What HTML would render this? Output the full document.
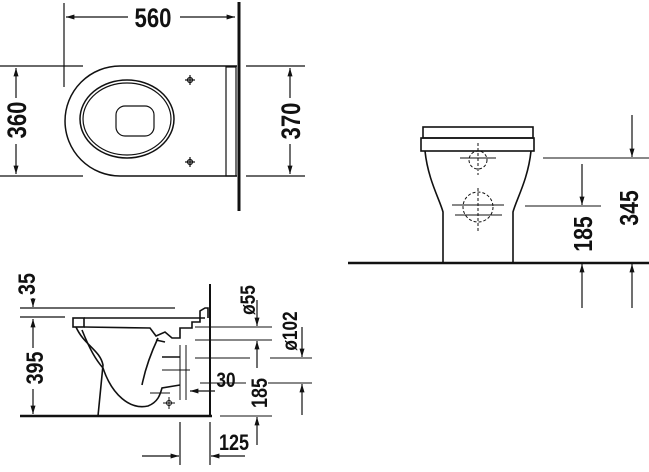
<!DOCTYPE html>
<html><head><meta charset="utf-8"><style>
html,body{margin:0;padding:0;background:#fff;}
svg{display:block;}
text{font-family:"Liberation Sans",Arial,sans-serif;fill:#111;font-weight:bold;}
</style></head><body>
<svg width="649" height="472" viewBox="0 0 649 472" xmlns="http://www.w3.org/2000/svg">
<defs>
<marker id="a" viewBox="0 0 10 10" refX="10" refY="5" markerWidth="7" markerHeight="7" orient="auto-start-reverse"><path d="M0,2 L10,5 L0,8 z" fill="#111"/></marker>
</defs>
<g stroke="#111" fill="none" stroke-width="1.2">
<!-- TOP VIEW -->
<line x1="64" y1="3" x2="64" y2="87"/>
<line x1="66" y1="17" x2="128" y2="17" marker-start="url(#a)"/>
<line x1="180" y1="17" x2="235" y2="17" marker-end="url(#a)"/>
<line x1="239" y1="2" x2="239" y2="211" stroke-width="3"/>
<line x1="0" y1="66" x2="83" y2="66"/>
<line x1="0" y1="176" x2="83" y2="176"/>
<line x1="16" y1="68" x2="16" y2="98" marker-start="url(#a)"/>
<line x1="16" y1="144" x2="16" y2="174" marker-end="url(#a)"/>
<path d="M237 66 H120 A55 55 0 0 0 120 176 H237" stroke-width="1.5"/>
<rect x="226" y="67" width="10" height="109"/>
<ellipse cx="127" cy="119" rx="47" ry="39" stroke-width="1.5"/>
<ellipse cx="127" cy="119" rx="44" ry="36"/>
<rect x="116" y="106" width="38" height="30" rx="9"/>
<circle cx="190" cy="80" r="2.5"/><line x1="185" y1="80" x2="195" y2="80"/><line x1="190" y1="75" x2="190" y2="85"/>
<circle cx="190" cy="162" r="2.5"/><line x1="185" y1="162" x2="195" y2="162"/><line x1="190" y1="157" x2="190" y2="167"/>
<line x1="246" y1="66" x2="305" y2="66"/>
<line x1="246" y1="176" x2="305" y2="176"/>
<line x1="290" y1="68" x2="290" y2="98" marker-start="url(#a)"/>
<line x1="290" y1="144" x2="290" y2="174" marker-end="url(#a)"/>

<!-- SIDE VIEW -->
<line x1="33" y1="298" x2="33" y2="307" marker-end="url(#a)"/>
<line x1="20" y1="308" x2="175" y2="308"/>
<line x1="20" y1="317" x2="65" y2="317"/>
<line x1="33" y1="319" x2="33" y2="348" marker-start="url(#a)"/>
<line x1="33" y1="389" x2="33" y2="414" marker-end="url(#a)"/>
<line x1="20" y1="416" x2="212" y2="416" stroke-width="2.5"/>
<line x1="210" y1="284" x2="210" y2="416" stroke-width="2"/>
<g stroke-width="1.6">
<rect x="73" y="318" width="11" height="9"/>
<path d="M84 318 H205"/>
<path d="M84 327 L150 328 L156 336 L165 332 L172 338 L180 338 L180 328 L192 328 L192 322 L200 322 L200 311 L205 308 L208 308 L208 318"/>
<path d="M76 327 C84 345 100 350 103 365 L98 416"/>
<path d="M82 330 C90 350 96 360 103 368 C112 395 130 410 148 406 C158 402 160 395 162 388 L180 385"/>
<path d="M158 338 C150 355 145 370 142 385"/>
<path d="M162 357 L180 357"/>
<path d="M156 340 L165 342"/>
</g>
<g stroke-width="1">
<line x1="195" y1="327" x2="272" y2="327"/>
<line x1="195" y1="340" x2="272" y2="340"/>
<line x1="195" y1="358" x2="250" y2="358"/>
<line x1="270" y1="358" x2="312" y2="358"/>
<line x1="162" y1="370" x2="190" y2="370"/>
<line x1="200" y1="383" x2="246" y2="383"/>
<line x1="268" y1="383" x2="312" y2="383"/>
<line x1="220" y1="416" x2="272" y2="416"/>
<line x1="186" y1="345" x2="186" y2="400"/>
<line x1="180" y1="345" x2="180" y2="400"/>
<line x1="150" y1="393" x2="170" y2="393"/>
<circle cx="169" cy="403" r="2.5"/><line x1="163" y1="403" x2="175" y2="403"/><line x1="169" y1="397" x2="169" y2="409"/>
</g>
<line x1="257" y1="300" x2="257" y2="326" marker-end="url(#a)"/>
<line x1="257" y1="341" x2="257" y2="368" marker-start="url(#a)"/>
<line x1="302" y1="327" x2="302" y2="357" marker-end="url(#a)"/>
<line x1="302" y1="384" x2="302" y2="415" marker-start="url(#a)"/>
<line x1="257" y1="417" x2="257" y2="445" marker-start="url(#a)"/>
<line x1="190" y1="391" x2="215" y2="391" marker-start="url(#a)"/>
<line x1="180" y1="422" x2="180" y2="465"/>
<line x1="210" y1="422" x2="210" y2="465"/>
<line x1="142" y1="456" x2="179" y2="456" marker-end="url(#a)"/>
<line x1="245" y1="456" x2="211" y2="456" marker-end="url(#a)"/>

<!-- FRONT VIEW -->
<line x1="348" y1="263" x2="649" y2="263" stroke-width="2.5"/>
<g stroke-width="1.6">
<rect x="423" y="127" width="110" height="11"/>
<rect x="421" y="138" width="113" height="13"/>
<path d="M425 151 C428 180 440 200 443 212 L443 263"/>
<path d="M531 151 C528 180 516 200 513 212 L513 263"/>
</g>
<g stroke-width="1" stroke-dasharray="3 2">
<circle cx="478" cy="160" r="9"/>
<circle cx="478" cy="207" r="15"/>
<line x1="478" y1="143" x2="478" y2="175"/>
<line x1="478" y1="188" x2="478" y2="232"/>
</g>
<g stroke-width="1">
<line x1="460" y1="158" x2="496" y2="158"/>
<line x1="452" y1="205" x2="504" y2="205"/>
<line x1="455" y1="215" x2="502" y2="215"/>
<line x1="543" y1="158" x2="649" y2="158"/>
<line x1="525" y1="206" x2="601" y2="206"/>
</g>
<line x1="632" y1="115" x2="632" y2="157" marker-end="url(#a)"/>
<line x1="632" y1="308" x2="632" y2="264" marker-end="url(#a)"/>
<line x1="582" y1="164" x2="582" y2="205" marker-end="url(#a)"/>
<line x1="582" y1="308" x2="582" y2="264" marker-end="url(#a)"/>
</g>
<text transform="translate(153,27) scale(0.82,1)" text-anchor="middle" font-size="27">560</text>
<text transform="translate(26,120) rotate(-90) scale(0.82,1)" text-anchor="middle" font-size="27">360</text>
<text transform="translate(300,121) rotate(-90) scale(0.82,1)" text-anchor="middle" font-size="27">370</text>
<text transform="translate(35,284) rotate(-90) scale(0.82,1)" text-anchor="middle" font-size="24">35</text>
<text transform="translate(43,368) rotate(-90) scale(0.82,1)" text-anchor="middle" font-size="24">395</text>
<text transform="translate(255,300) rotate(-90) scale(0.82,1)" text-anchor="middle" font-size="21">ø55</text>
<text transform="translate(297,331) rotate(-90) scale(0.82,1)" text-anchor="middle" font-size="21">ø102</text>
<text transform="translate(226,387) scale(0.82,1)" text-anchor="middle" font-size="21">30</text>
<text transform="translate(267,393) rotate(-90) scale(0.82,1)" text-anchor="middle" font-size="22">185</text>
<text transform="translate(234,450) scale(0.82,1)" text-anchor="middle" font-size="22">125</text>
<text transform="translate(592,234) rotate(-90) scale(0.82,1)" text-anchor="middle" font-size="26">185</text>
<text transform="translate(638,208) rotate(-90) scale(0.82,1)" text-anchor="middle" font-size="26">345</text>
</svg>
</body></html>
